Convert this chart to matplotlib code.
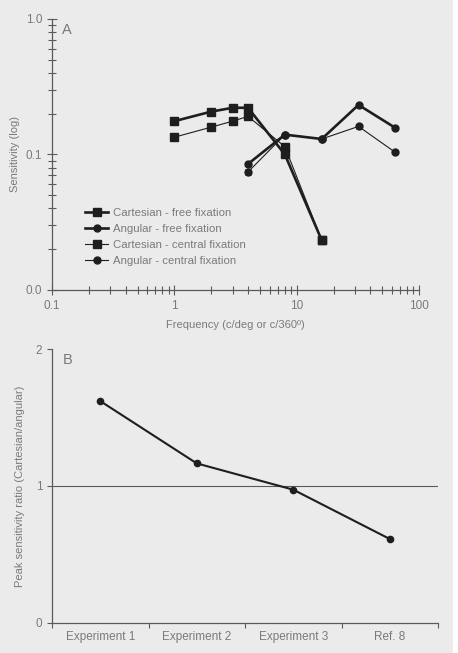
import matplotlib.pyplot as plt
import matplotlib.ticker as mticker
import numpy as np

plt.rcParams['font.family'] = ['Liberation Sans', 'DejaVu Sans']

# panel A data
freq_cart = [1, 2, 3, 4, 8, 16]
freq_ang = [4, 8, 16, 32, 64]
cart_free = [0.176, 0.207, 0.221, 0.221, 0.100, 0.0233]
cart_free_err = [0.012, 0.004, 0.004, 0.004, 0.004, 0.0015]
ang_free = [0.085, 0.140, 0.130, 0.232, 0.157]
ang_free_err = [0.003, 0.003, 0.003, 0.004, 0.003]
cart_central = [0.134, 0.159, 0.176, 0.191, 0.114, 0.0233]
cart_central_err = [0.003, 0.003, 0.003, 0.004, 0.004, 0.0015]
ang_central = [0.0742, 0.140, 0.130, 0.161, 0.1035]
ang_central_err = [0.004, 0.003, 0.003, 0.008, 0.002]
series_labels = ["Cartesian - free fixation", "Angular - free fixation",
                 "Cartesian - central fixation", "Angular - central fixation"]

# panel B data
experiments = ["Experiment 1", "Experiment 2", "Experiment 3", "Ref. 8"]
peak_ratio = [1.62, 1.165, 0.973, 0.613]

bg = "#ebebeb"
txt = "#7a7a7a"
axc = "#5a5a5a"
dark = "#1e1e1e"

fig = plt.figure(figsize=(4.58, 6.53), dpi=100, facecolor=bg)
fig.patches.append(plt.Rectangle((0.99, 0), 0.01, 1, transform=fig.transFigure,
                                 facecolor="white", edgecolor="none", zorder=-1))

# ---- panel A
ax = fig.add_axes([0.1135, 0.556, 0.8015, 0.415])
ax.set_facecolor(bg)
ax.set_xscale("log")
ax.set_yscale("log")
ax.set_xlim(0.1, 100)
ax.set_ylim(0.01, 1.0)

series = [
    (freq_cart, cart_free, cart_free_err, 1.9, "s", 6),
    (freq_ang, ang_free, ang_free_err, 1.9, "o", 5),
    (freq_cart, cart_central, cart_central_err, 0.8, "s", 6),
    (freq_ang, ang_central, ang_central_err, 0.8, "o", 5),
]
handles = []
for x, y, e, lw, m, ms in series:
    c = ax.errorbar(x, y, yerr=e, color=dark, lw=lw, marker=m, ms=ms,
                    capsize=2, elinewidth=0.6, capthick=0.6)
    handles.append(c[0])

for s in ["top", "right"]:
    ax.spines[s].set_visible(False)
for s in ["left", "bottom"]:
    ax.spines[s].set_color(axc)
    ax.spines[s].set_linewidth(0.9)

ax.yaxis.set_major_locator(mticker.FixedLocator([0.01, 0.1, 1.0]))
ax.yaxis.set_major_formatter(mticker.FixedFormatter(["0.0", "0.1", "1.0"]))
ax.yaxis.set_minor_locator(mticker.LogLocator(base=10, subs=np.arange(2, 10)))
ax.yaxis.set_minor_formatter(mticker.NullFormatter())
ax.xaxis.set_major_locator(mticker.FixedLocator([0.1, 1, 10, 100]))
ax.xaxis.set_major_formatter(mticker.FixedFormatter(["0.1", "1", "10", "100"]))
ax.xaxis.set_minor_locator(mticker.LogLocator(base=10, subs=np.arange(2, 10)))
ax.xaxis.set_minor_formatter(mticker.NullFormatter())
ax.tick_params(which="both", direction="inout", color=axc, width=0.8,
               labelcolor=txt, labelsize=8.5)
ax.tick_params(which="major", length=7)
ax.tick_params(which="minor", length=6)
ax.set_ylabel("Sensitivity (log)", color=txt, fontsize=8, labelpad=4)
ax.set_xlabel("Frequency (c/deg or c/360º)", color=txt, fontsize=8, labelpad=6)
ax.text(0.027, 0.985, "A", transform=ax.transAxes, color=txt, fontsize=10.5,
        va="top", ha="left")

leg = ax.legend(handles, series_labels, loc="center left",
                bbox_to_anchor=(0.075, 0.195), frameon=False, fontsize=8.2,
                handlelength=2.0, handletextpad=0.4, labelspacing=0.55,
                borderpad=0)
for t in leg.get_texts():
    t.set_color(txt)

# ---- panel B
bx = fig.add_axes([0.1135, 0.046, 0.843, 0.4195])
bx.set_facecolor(bg)
xpos = np.arange(len(experiments))
bx.axhline(1, color=axc, lw=0.8, zorder=1)
bx.plot(xpos, peak_ratio, color=dark, lw=1.5, marker="o", ms=4.5, zorder=3)
bx.set_xlim(-0.5, len(experiments) - 0.5)
bx.set_ylim(0, 2)
for s in ["top", "right"]:
    bx.spines[s].set_visible(False)
for s in ["left", "bottom"]:
    bx.spines[s].set_color(axc)
    bx.spines[s].set_linewidth(0.9)
bx.set_yticks([0, 1, 2])
bx.set_xticks(xpos)
bx.set_xticklabels(experiments)
bx.set_xticks(np.arange(-0.5, len(experiments)), minor=True)
bx.tick_params(axis="x", which="major", length=0, pad=6)
bx.tick_params(axis="x", which="minor", length=3.5, direction="out")
bx.tick_params(axis="y", length=3.5, direction="out")
bx.tick_params(which="both", color=axc, width=0.8, labelcolor=txt, labelsize=8.5)
bx.set_ylabel("Peak sensitivity ratio (Cartesian/angular)", color=txt,
              fontsize=8, labelpad=8)
bx.text(0.027, 0.985, "B", transform=bx.transAxes, color=txt, fontsize=10.5,
        va="top", ha="left")

fig.savefig("out.png", dpi=100, facecolor=bg)
